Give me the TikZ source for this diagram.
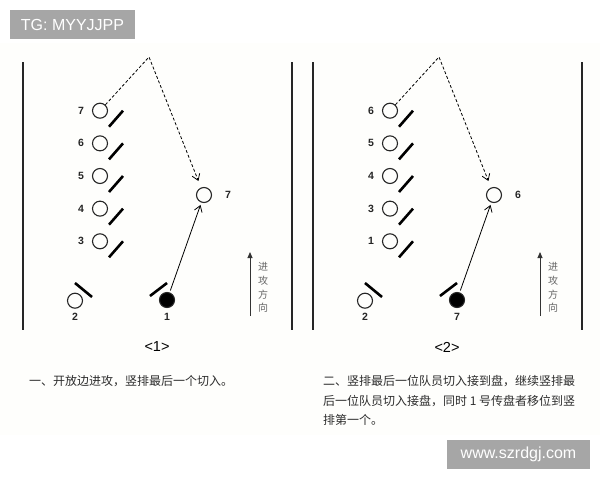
\documentclass[tikz,border=0pt]{standalone}
\usepackage{fontspec}
\setmainfont{Liberation Sans}
\newfontfamily\cjk{Noto Sans CJK SC}
\usetikzlibrary{arrows.meta}
\definecolor{paper}{RGB}{254,254,252}
\definecolor{wm}{RGB}{166,166,166}
\definecolor{txt}{RGB}{45,45,45}
\begin{document}
\begin{tikzpicture}[x=1pt,y=-1pt,
  player/.style={circle,draw=black!85,line width=1.1pt,minimum size=15pt,inner sep=0pt},
  ballp/.style={player,fill=black},
  num/.style={font=\fontsize{10.5}{12}\selectfont\bfseries,text=black!85,inner sep=0pt},
  slash/.style={line width=2.6pt},
  side/.style={line width=1.6pt,draw=black!85},
  runpath/.style={dash pattern=on 3pt off 2pt,line width=0.8pt,-{Straight Barb[length=6pt,width=8pt]}},
  passline/.style={line width=0.8pt,-{Straight Barb[length=6pt,width=8pt]}},
  dirarrow/.style={line width=0.9pt,draw=black!80,-{Triangle[length=6pt,width=5pt]}},
  dirtext/.style={font=\cjk\fontsize{10}{12}\selectfont,text=black!60,inner sep=0pt},
  caption/.style={font=\fontsize{14.5}{16}\selectfont,inner sep=0pt},
  desc/.style={font=\cjk\fontsize{12}{14}\selectfont,text=txt,inner sep=0pt,anchor=west},
  wmbox/.style={fill=wm,draw=none},
  wmtext/.style={font=\fontsize{16}{18}\selectfont,text=white,inner sep=0pt}
]
\useasboundingbox (0,0) rectangle (600,480);
\fill[white] (0,0) rectangle (600,480);
\fill[paper] (0,43) rectangle (600,435);

\foreach \dx/\p/\la/\lb/\lc/\ld/\le/\lt/\lbot in {0/L/7/6/5/4/3/7/1, 290/R/6/5/4/3/1/6/7}{
  \begin{scope}[shift={(\dx,0)}]
    % side lines
    \draw[side] (23,62) -- (23,330);
    \draw[side] (292,62) -- (292,330);
    % stack column
    \foreach \i/\l in {0/\la,1/\lb,2/\lc,3/\ld,4/\le}{
      \pgfmathsetmacro{\yy}{110.7+32.65*\i}
      \node[player] (\p c\i) at (100,\yy) {};
      \node[num] (\p n\i) at (81,\yy) {\l};
      \draw[slash] (109,\yy+16) -- (123,\yy);
    }
    % target
    \node[player] (\p t) at (204,195) {};
    \node[num] (\p tn) at (228,195) {\lt};
    % bottom players
    \node[player] (\p two) at (75,300.7) {};
    \node[num] (\p twon) at (75,317) {2};
    \draw[slash] (75,283) -- (92,297);
    \node[ballp] (\p hb) at (167,300) {};
    \node[num] (\p hbn) at (167,317) {\lbot};
    \draw[slash] (150,296) -- (167,283);
    % apex
    \coordinate (\p apex) at (149,57);
    \draw[runpath,shorten >=7pt] (\p c0) -- (\p apex) -- (\p t);
    \draw[passline,shorten >=2.5pt,shorten <=2pt] (\p hb) -- (\p t);
    % direction
    \coordinate (\p d1) at (250,316);
    \coordinate (\p d2) at (250,252);
    \draw[dirarrow] (\p d1) -- (\p d2);
    \node[dirtext] (\p dt1) at (263,267) {进};
    \node[dirtext] (\p dt2) at (263,280.7) {攻};
    \node[dirtext] (\p dt3) at (263,294.3) {方};
    \node[dirtext] (\p dt4) at (263,308) {向};
  \end{scope}
}

\node[caption] (cap1) at (157,347) {<1>};
\node[caption] (cap2) at (447,347) {<2>};

\node[desc] (d1) at (29,381) {一、开放边进攻，竖排最后一个切入。};
\node[desc] (d2a) at (323,381) {二、竖排最后一位队员切入接到盘，继续竖排最};
\node[desc] (d2b) at (323,401) {后一位队员切入接盘，同时 1 号传盘者移位到竖};
\node[desc] (d2c) at (323,420) {排第一个。};

\fill[wmbox] (10,10) rectangle (135,39);
\node[wmtext] (tg) at (72.5,24.5) {TG: MYYJJPP};
\fill[wmbox] (447,440) rectangle (590,469);
\node[wmtext] (www) at (518.5,454.5) {www.szrdgj.com};
\end{tikzpicture}
\end{document}
